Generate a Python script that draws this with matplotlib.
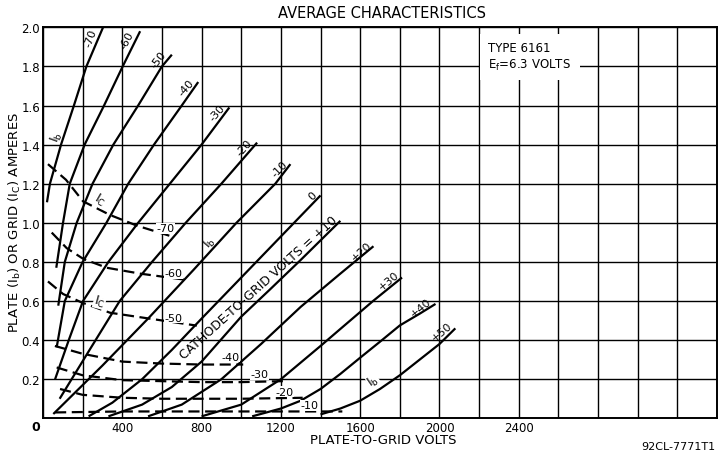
import matplotlib
matplotlib.use("Agg")
import matplotlib.pyplot as plt

# plate current (Ib) curves: plate-to-grid volts / amperes
ib_m70_v = [20, 35, 91, 156, 219, 303]
ib_m70_a = [1.105, 1.2, 1.4, 1.6, 1.8, 2.0]
ib_m60_v = [67, 101, 135, 210, 308, 402, 490]
ib_m60_a = [0.77, 1.0, 1.2, 1.4, 1.6, 1.8, 1.98]
ib_m50_v = [77, 110, 170, 250, 355, 480, 600, 650]
ib_m50_a = [0.576, 0.8, 1.0, 1.2, 1.4, 1.6, 1.8, 1.86]
ib_m40_v = [69, 110, 200, 320, 430, 560, 700, 783]
ib_m40_a = [0.363, 0.6, 0.8, 1.0, 1.2, 1.4, 1.6, 1.72]
ib_m30_v = [61, 130, 202, 330, 480, 640, 800, 940]
ib_m30_a = [0.2, 0.4, 0.6, 0.8, 1.0, 1.2, 1.4, 1.59]
ib_m20_v = [84, 235, 387, 550, 720, 900, 1080]
ib_m20_a = [0.1, 0.35, 0.6, 0.8, 1.0, 1.2, 1.41]
ib_m10_v = [52, 150, 300, 530, 760, 976, 1172, 1248]
ib_m10_a = [0.022, 0.12, 0.27, 0.51, 0.76, 1.0, 1.2, 1.3]
ib_0_v = [230, 350, 500, 650, 800, 1000, 1200, 1400]
ib_0_a = [0.01, 0.08, 0.2, 0.35, 0.51, 0.72, 0.93, 1.14]
ib_p10_v = [330, 500, 650, 800, 1000, 1146, 1300, 1500]
ib_p10_a = [0.01, 0.07, 0.16, 0.29, 0.52, 0.66, 0.81, 1.01]
ib_p20_v = [530, 700, 900, 1100, 1300, 1500, 1667]
ib_p20_a = [0.01, 0.07, 0.2, 0.38, 0.57, 0.74, 0.88]
ib_p30_v = [800, 1000, 1200, 1400, 1500, 1665, 1811]
ib_p30_a = [0.01, 0.07, 0.2, 0.37, 0.457, 0.6, 0.72]
ib_p40_v = [1055, 1200, 1300, 1400, 1500, 1600, 1710, 1800, 1900, 1980]
ib_p40_a = [0.01, 0.05, 0.09, 0.15, 0.227, 0.31, 0.40, 0.475, 0.535, 0.585]
ib_p50_v = [1400, 1500, 1600, 1700, 1800, 1900, 2000, 2080]
ib_p50_a = [0.02, 0.05, 0.09, 0.15, 0.22, 0.30, 0.38, 0.46]

# grid current (Ic) curves, dashed
ic_m70_v = [25, 116, 202, 338, 475, 650]
ic_m70_a = [1.30, 1.22, 1.11, 1.04, 0.985, 0.93]
ic_m60_v = [44, 120, 204, 322, 490, 709]
ic_m60_a = [0.95, 0.87, 0.815, 0.77, 0.74, 0.71]
ic_m50_v = [25, 101, 194, 338, 490, 776]
ic_m50_a = [0.70, 0.636, 0.593, 0.54, 0.517, 0.474]
ic_m40_v = [60, 200, 400, 600, 800, 1010]
ic_m40_a = [0.37, 0.33, 0.29, 0.28, 0.275, 0.275]
ic_m30_v = [69, 200, 400, 600, 800, 1000, 1210]
ic_m30_a = [0.26, 0.22, 0.195, 0.19, 0.185, 0.185, 0.19]
ic_m20_v = [86, 200, 400, 600, 800, 1000, 1310]
ic_m20_a = [0.15, 0.12, 0.105, 0.10, 0.10, 0.10, 0.105]
ic_m10_v = [61, 400, 800, 1200, 1510]
ic_m10_a = [0.03, 0.035, 0.035, 0.035, 0.035]

x_ticks = list(range(0, 3401, 200))
x_labelled = [400, 800, 1200, 1600, 2000, 2400]
y_ticks = [0.2, 0.4, 0.6, 0.8, 1.0, 1.2, 1.4, 1.6, 1.8, 2.0]

# (label, volts, amps, label offset px, label rotation)
ib_curves = [
    ("-70", ib_m70_v, ib_m70_a, (-12, -10), 70),
    ("-60", ib_m60_v, ib_m60_a, (-13, -8), 62),
    ("-50", ib_m50_v, ib_m50_a, (-13, -4), 52),
    ("-40", ib_m40_v, ib_m40_a, (-12, -5), 48),
    ("-30", ib_m30_v, ib_m30_a, (-12, -5), 48),
    ("-20", ib_m20_v, ib_m20_a, (-13, -5), 48),
    ("-10", ib_m10_v, ib_m10_a, (-11, -4), 45),
    ("0", ib_0_v, ib_0_a, (-8, 0), 45),
    ("", ib_p10_v, ib_p10_a, (0, 0), 0),
    ("+20", ib_p20_v, ib_p20_a, (-12, -5), 42),
    ("+30", ib_p30_v, ib_p30_a, (-13, -3), 40),
    ("+40", ib_p40_v, ib_p40_a, (-15, -3), 40),
    ("+50", ib_p50_v, ib_p50_a, (-14, -3), 40),
]
ic_curves = [
    ("-70", ic_m70_v, ic_m70_a, (-6, 8)),
    ("-60", ic_m60_v, ic_m60_a, (-10, 6)),
    ("-50", ic_m50_v, ic_m50_a, (-23, 8)),
    ("-40", ic_m40_v, ic_m40_a, (-13, 8)),
    ("-30", ic_m30_v, ic_m30_a, (-23, 7)),
    ("-20", ic_m20_v, ic_m20_a, (-18, 6)),
    ("-10", ic_m10_v, ic_m10_a, (-33, 6)),
]

plt.rcParams['font.family'] = ['DejaVu Sans']
fig = plt.figure(figsize=(7.18, 4.52), dpi=100)
ax = fig.add_axes([43 / 718, 32.7 / 452, 674 / 718, 391 / 452])
ax.set_xlim(0, 3400)
ax.set_ylim(0, 2.0)

ax.set_xticks(x_ticks)
ax.set_xticklabels([str(v) if v in x_labelled else "" for v in x_ticks], fontsize=8.5)
ax.set_yticks(y_ticks)
ax.set_yticklabels(["%.1f" % v for v in y_ticks], fontsize=8.5)
ax.tick_params(axis='x', length=0, pad=2)
ax.tick_params(axis='y', length=0, pad=2)
ax.grid(True, color='black', lw=1.0)
ax.set_axisbelow(True)
for s in ax.spines.values():
    s.set_linewidth(1.4)

for lab, v, a, off, rot in ib_curves:
    ax.plot(v, a, color='black', lw=1.6, solid_capstyle='butt')
    if lab:
        ax.annotate(lab, (v[-1], a[-1]), xytext=off, textcoords='offset pixels',
                    rotation=rot, ha='center', va='center', fontsize=8)

for lab, v, a, off in ic_curves:
    ax.plot(v, a, color='black', lw=1.6, dashes=(5, 2.5))
    ax.annotate(lab, (v[-1], a[-1]), xytext=off, textcoords='offset pixels',
                ha='center', va='center', fontsize=8,
                bbox=dict(facecolor='white', edgecolor='none', pad=0.3))

# text along the +10 curve
ax.annotate("CATHODE-TO-GRID VOLTS = +10", (ib_p10_v[-1], ib_p10_a[-1]),
            xytext=(-82, -66), textcoords='offset pixels', rotation=42,
            ha='center', va='center', fontsize=9)

# Ib / Ic curve tags
ax.text(71, 1.44, r"$\mathregular{I_b}$", rotation=70, ha='center', va='center', fontsize=9)
ax.text(840, 0.90, r"$\mathregular{I_b}$", rotation=50, ha='center', va='center', fontsize=9)
ax.text(1667, 0.19, r"$\mathregular{I_b}$", rotation=35, ha='center', va='center', fontsize=9,
        bbox=dict(facecolor='white', edgecolor='none', pad=0.3))
ax.text(288, 1.12, r"$\mathregular{I_C}$", rotation=-30, ha='center', va='center', fontsize=9,
        bbox=dict(facecolor='white', edgecolor='none', pad=0.3))
ax.text(286, 0.60, r"$\mathregular{I_C}$", rotation=-15, ha='center', va='center', fontsize=9,
        bbox=dict(facecolor='white', edgecolor='none', pad=0.3))

ax.text(2247, 1.85, "TYPE 6161\n" + r"$\mathregular{E_f}$=6.3 VOLTS", ha='left', va='center',
        fontsize=8.5, linespacing=1.2,
        bbox=dict(facecolor='white', edgecolor='none', boxstyle='square,pad=0.7'))

fig.text(382 / 718, 1 - 14 / 452, "AVERAGE CHARACTERISTICS", ha='center', va='center', fontsize=10.5)
fig.text(383 / 718, 1 - 441 / 452, "PLATE-TO-GRID VOLTS", ha='center', va='center', fontsize=9.5)
fig.text(36 / 718, 1 - 428 / 452, "0", ha='center', va='center', fontsize=9, fontweight='bold')
fig.text(15 / 718, 1 - 222 / 452,
         r"PLATE ($\mathregular{I_b}$) OR GRID ($\mathregular{I_C}$) AMPERES",
         rotation=90, ha='center', va='center', fontsize=9.5)
fig.text(715 / 718, 1 - 447 / 452, "92CL-7771T1", ha='right', va='center', fontsize=8)

fig.savefig("out.png", dpi=100, facecolor='white')
